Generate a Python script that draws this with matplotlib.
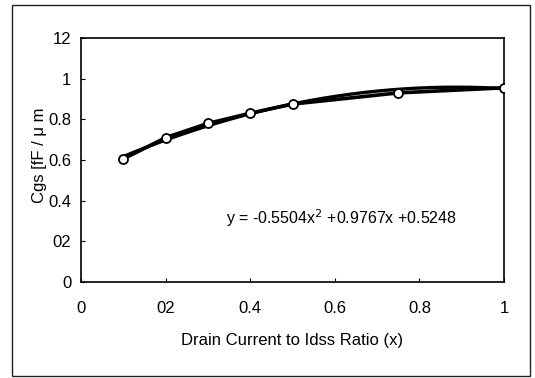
import numpy as np
import matplotlib
matplotlib.use("Agg")
import matplotlib.pyplot as plt
from matplotlib.patches import Rectangle

plt.rcParams['font.family'] = ['Liberation Sans', 'DejaVu Sans']

# Data
ratio = [0.1, 0.2, 0.3, 0.4, 0.5, 0.75, 1.0]
cgs = [0.605, 0.71, 0.78, 0.83, 0.875, 0.93, 0.955]
fit_coeffs = [-0.5504, 0.9767, 0.5248]

x_ticks = [0, 0.2, 0.4, 0.6, 0.8, 1.0]
x_tick_labels = ["0", "02", "0.4", "0.6", "0.8", "1"]
y_ticks = [0, 0.2, 0.4, 0.6, 0.8, 1.0, 1.2]
y_tick_labels = ["0", "02", "0.4", "0.6", "0.8", "1", "12"]

W, H = 535, 378
fig = plt.figure(figsize=(W / 100, H / 100), dpi=100)

# outer frame
fig.patches.append(Rectangle((12 / W, 1 - 376 / H), (530 - 12) / W, (376 - 5) / H,
                             transform=fig.transFigure, fill=False,
                             edgecolor='#222222', linewidth=1.0))

ax = fig.add_axes([81 / W, 1 - 282 / H, (504 - 81) / W, (282 - 38) / H])

xf = np.linspace(ratio[0], ratio[-1], 200)
ax.plot(xf, np.polyval(fit_coeffs, xf), color='black', linewidth=2.4, zorder=2)
ax.plot(ratio, cgs, color='black', linewidth=2.6, marker='o', markersize=6.5,
        markerfacecolor='white', markeredgecolor='black', markeredgewidth=1.3,
        zorder=3)

ax.set_xlim(0, 1)
ax.set_ylim(0, 1.2)
ax.set_xticks(x_ticks)
ax.set_xticklabels(x_tick_labels)
ax.set_yticks(y_ticks)
ax.set_yticklabels(y_tick_labels)
ax.tick_params(direction='in', length=3, width=0.8, labelsize=12, colors='black')
ax.tick_params(axis='x', pad=14)
ax.tick_params(axis='y', pad=7)
for s in ax.spines.values():
    s.set_linewidth(1.2)
    s.set_color('black')

ax.set_xlabel("Drain Current to Idss Ratio (x)", fontsize=12, labelpad=12)
ax.set_ylabel("Cgs [fF / \u03bc m", fontsize=12)
ax.yaxis.set_label_coords(-0.08, 0.52)

ax.text(0.617, 0.262, "y = -0.5504x$^2$ +0.9767x +0.5248", transform=ax.transAxes,
        fontsize=11.5, ha='center', va='center')

fig.savefig("out.png", dpi=100)
